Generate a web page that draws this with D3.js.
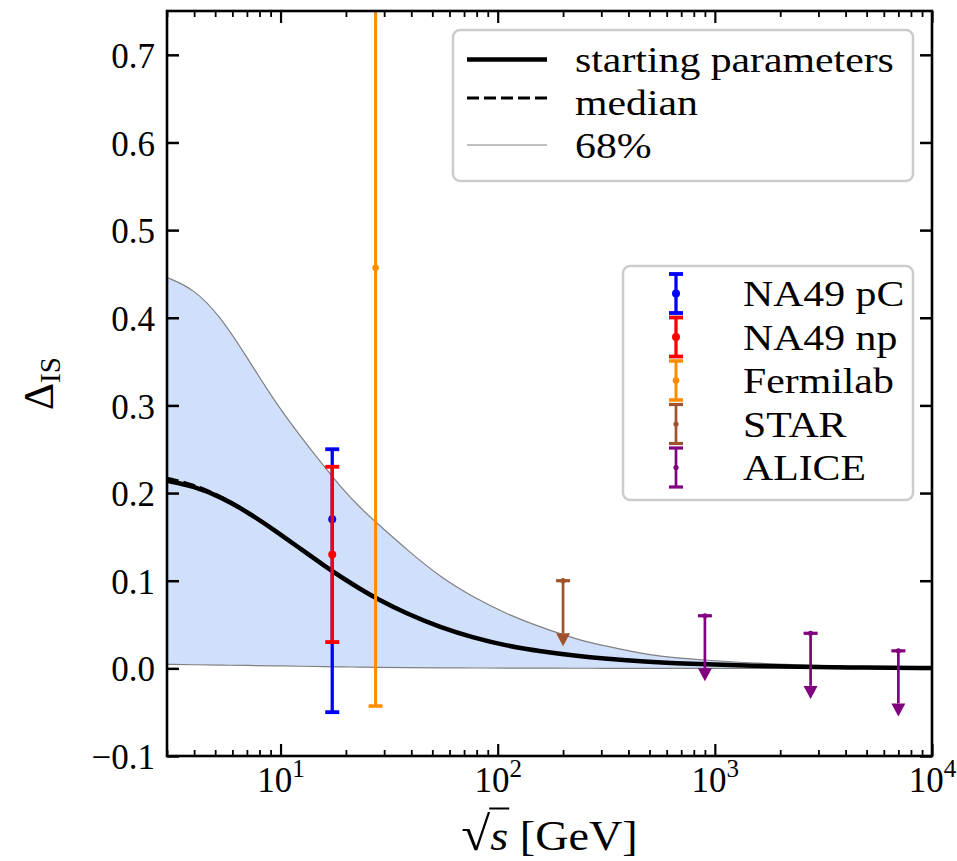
<!DOCTYPE html>
<html><head><meta charset="utf-8">
<script src="https://cdn.jsdelivr.net/npm/d3@7"></script>
<style>
body{margin:0;background:#fff}
svg text{font-family:"Liberation Serif","Times New Roman",serif;fill:#000}
</style>
</head><body>
<svg id="c" width="957" height="861"></svg>
<script>
// ---------- data ----------
const curveEnergy = [3,4,5.3,7,9.3,12.4,16.4,18.9,23.3,27.4,38.3,54.4,77.4,110,157,239,296,485,900,1990,4000,10000];
const startingValues = [0.214,0.2078,0.1956,0.1787,0.1584,0.1361,0.1147,0.1046,0.0905,0.0802,0.0621,0.0468,0.0349,0.0258,0.0195,0.0138,0.0115,0.0075,0.0045,0.0022,0.0010,0.0003];
const medianValues   = [0.217,0.2095,0.1965,0.1792,0.1586,0.1362,0.1147,0.1046,0.0905,0.0802,0.0621,0.0468,0.0349,0.0258,0.0195,0.0138,0.0115,0.0075,0.0045,0.0022,0.0010,0.0003];
const upperValues    = [0.446,0.433,0.401,0.355,0.306,0.264,0.226,0.207,0.183,0.167,0.135,0.104,0.081,0.062,0.047,0.032,0.027,0.015,0.009,0.0046,0.002,0.0005];
const lowerValues    = [0.0045,0.0041,0.0037,0.0033,0.0029,0.0024,0.0019,0.0017,0.0014,0.0012,0.0008,0.0006,0.0004,0.0003,0.0002,0.0001,0.0001,0,0,0,0,0];

const expNames    = ["NA49 pC","NA49 np","Fermilab","STAR","ALICE"];
const expEnergy   = [[17.3],[17.3],[27.4],[200],[900,2760,7000]];
const expValue    = [[0.17],[0.13],[0.457],[0.10],[0.06,0.04,0.02]];
const expErrLow   = [[0.22],[0.10],[0.50],[0.06],[0.06,0.06,0.06]];
const expErrHigh  = [[0.08],[0.10],[0.50],[0],[0,0,0]];
const expUpperLim = [false,false,false,true,true];

const curveLabels = ["starting parameters","median","68%"];
const yTicks = [-0.1,0,0.1,0.2,0.3,0.4,0.5,0.6,0.7];
const xTicks = [10,100,1000,10000];

// ---------- styles ----------
const expColors = ["#0000ff","#ff0000","#ff8c00","#a0522d","#800080"];
const expLineW  = [3.3,3.3,3,2.7,2.7];
const expDotR   = [4,4,3.3,2.6,2.6];

// ---------- layout ----------
const ML=167, MT=11, W=765, H=745;
const svg = d3.select("#c");
const x = d3.scaleLog().domain([3,1e4]).range([0,W]);
const y = d3.scaleLinear().domain([-0.1,0.75]).range([H,0]);
const g = svg.append("g").attr("transform",`translate(${ML},${MT})`);

svg.append("defs").append("clipPath").attr("id","clip")
  .append("rect").attr("width",W).attr("height",H);
const plot = g.append("g").attr("clip-path","url(#clip)");

const curve = curveEnergy.map((e,i)=>({e, s:startingValues[i], m:medianValues[i], hi:upperValues[i], lo:lowerValues[i]}));
const smooth = d3.curveBasis;

// band
plot.append("path").datum(curve)
  .attr("d", d3.area().x(d=>x(d.e)).y0(d=>y(d.lo)).y1(d=>y(d.hi)).curve(smooth))
  .attr("fill","rgba(100,149,237,0.3)").attr("stroke","none");
["hi","lo"].forEach(k=>{
  plot.append("path").datum(curve)
    .attr("d", d3.line().x(d=>x(d.e)).y(d=>y(d[k])).curve(smooth))
    .attr("fill","none").attr("stroke","#808080").attr("stroke-width",1.2);
});
plot.append("path").datum(curve)
  .attr("d", d3.line().x(d=>x(d.e)).y(d=>y(d.s)).curve(smooth))
  .attr("fill","none").attr("stroke","#000").attr("stroke-width",4.5);
plot.append("path").datum(curve)
  .attr("d", d3.line().x(d=>x(d.e)).y(d=>y(d.m)).curve(smooth))
  .attr("fill","none").attr("stroke","#000").attr("stroke-width",3).attr("stroke-dasharray","12,5");

// error bars
expNames.forEach((name,k)=>{
  const col = expColors[k], lw = expLineW[k];
  const grp = plot.append("g");
  expEnergy[k].forEach((e,i)=>{
    const cx = x(e), v = expValue[k][i];
    const yTop = y(v + expErrHigh[k][i]), yBot = y(v - expErrLow[k][i]);
    grp.append("line").attr("x1",cx).attr("x2",cx).attr("y1",yTop).attr("y2",yBot)
      .attr("stroke",col).attr("stroke-width",lw);
    grp.append("line").attr("x1",cx-7).attr("x2",cx+7).attr("y1",yTop).attr("y2",yTop)
      .attr("stroke",col).attr("stroke-width",lw+0.5);
    if(expUpperLim[k]){
      grp.append("path").attr("d",`M${cx-7},${yBot}L${cx+7},${yBot}L${cx},${yBot+13}Z`).attr("fill",col);
    } else {
      grp.append("line").attr("x1",cx-7).attr("x2",cx+7).attr("y1",yBot).attr("y2",yBot)
        .attr("stroke",col).attr("stroke-width",lw+0.5);
    }
    grp.append("circle").attr("cx",cx).attr("cy",y(v)).attr("r",expDotR[k]).attr("fill",col);
  });
});

// ---------- axes ----------
const minorX = [];
for(let dec=1; dec<=1000; dec*=10) for(let m=2;m<10;m++){const v=m*dec; if(v>=3 && v<=1e4) minorX.push(v);}
function styleAxis(sel){ sel.select(".domain").remove(); sel.selectAll(".tick line").attr("stroke","#000"); }
const axB = g.append("g").attr("transform",`translate(0,${H})`).call(d3.axisBottom(x).tickValues(xTicks).tickSize(-12).tickFormat(""));
styleAxis(axB); axB.selectAll(".tick line").attr("stroke-width",2.2);
axB.selectAll(".tick").append("text").attr("text-anchor","middle").attr("y",36).attr("font-size",35)
  .each(function(d){
    const t=d3.select(this);
    t.append("tspan").text("10");
    t.append("tspan").attr("dy",-15).attr("font-size",25).text(Math.round(Math.log10(d)));
  });
const axBm = g.append("g").attr("transform",`translate(0,${H})`).call(d3.axisBottom(x).tickValues(minorX).tickSize(-6).tickFormat(""));
styleAxis(axBm); axBm.selectAll(".tick line").attr("stroke-width",1.8);
const axT = g.append("g").call(d3.axisTop(x).tickValues(xTicks).tickSize(-12).tickFormat(""));
styleAxis(axT); axT.selectAll(".tick line").attr("stroke-width",2.2);
const axTm = g.append("g").call(d3.axisTop(x).tickValues(minorX).tickSize(-6).tickFormat(""));
styleAxis(axTm); axTm.selectAll(".tick line").attr("stroke-width",1.8);

const axL = g.append("g").call(d3.axisLeft(y).tickValues(yTicks).tickSize(-12).tickPadding(12).tickFormat(d3.format(".1f")));
styleAxis(axL); axL.selectAll(".tick line").attr("stroke-width",2.5);
axL.selectAll(".tick text").attr("font-size",35).attr("dy","0.36em").attr("font-family","Liberation Serif");
const axR = g.append("g").attr("transform",`translate(${W},0)`).call(d3.axisRight(y).tickValues(yTicks).tickSize(-12).tickFormat(""));
styleAxis(axR); axR.selectAll(".tick line").attr("stroke-width",2.5);

g.append("rect").attr("width",W).attr("height",H).attr("fill","none").attr("stroke","#000").attr("stroke-width",2.6);

// axis labels
const xl = svg.append("text").attr("x",ML+W/2).attr("y",850).attr("text-anchor","middle").attr("font-size",42);
xl.append("tspan").attr("font-size",48).text("√");
xl.append("tspan").attr("font-style","italic").text("s");
xl.append("tspan").text(" [GeV]");
{
  const node = xl.node();
  const w = node.getComputedTextLength();
  xl.attr("textLength", w*1.1).attr("lengthAdjust","spacingAndGlyphs");
  const r0 = node.getExtentOfChar(0), r1 = node.getExtentOfChar(1);
  svg.append("line").attr("x1",r0.x+r0.width-1).attr("x2",r1.x+r1.width+1)
    .attr("y1",r0.y+1.5).attr("y2",r0.y+1.5).attr("stroke","#000").attr("stroke-width",2);
}
const yl = svg.append("text").attr("transform",`translate(53,${MT+H/2}) rotate(-90)`).attr("text-anchor","middle").attr("font-size",42);
yl.append("tspan").text("Δ");
yl.append("tspan").attr("font-size",29).attr("dy",7).text("IS");

// ---------- legends ----------
const TXT_STRETCH = 1.16;
function legendText(sel, xPos, yPos, str){
  const t = sel.append("text").attr("x",xPos).attr("y",yPos).attr("font-size",36).text(str);
  const w = t.node().getComputedTextLength();
  t.attr("textLength", w*TXT_STRETCH).attr("lengthAdjust","spacingAndGlyphs");
}
const lg1 = svg.append("g");
lg1.append("rect").attr("x",453).attr("y",30).attr("width",460).attr("height",151).attr("rx",7)
  .attr("fill","rgba(255,255,255,0.85)").attr("stroke","#cccccc").attr("stroke-width",2.5);
const lineRows=[59.5,98,145], textRows=[72,115,158];
lg1.append("line").attr("x1",467).attr("x2",547).attr("y1",lineRows[0]).attr("y2",lineRows[0]).attr("stroke","#000").attr("stroke-width",4.5);
lg1.append("line").attr("x1",467).attr("x2",547).attr("y1",lineRows[1]).attr("y2",lineRows[1]).attr("stroke","#000").attr("stroke-width",3).attr("stroke-dasharray","12,5");
lg1.append("line").attr("x1",467).attr("x2",547).attr("y1",lineRows[2]).attr("y2",lineRows[2]).attr("stroke","#808080").attr("stroke-width",1.2);
curveLabels.forEach((s,i)=>legendText(lg1,575,textRows[i],s));

const lg2 = svg.append("g");
lg2.append("rect").attr("x",623).attr("y",266).attr("width",290).attr("height",234).attr("rx",7)
  .attr("fill","rgba(255,255,255,0.85)").attr("stroke","#cccccc").attr("stroke-width",2.5);
expNames.forEach((name,k)=>{
  const cy = 293.5 + 43.5*k, cx = 676, col = expColors[k], lw = expLineW[k];
  lg2.append("line").attr("x1",cx).attr("x2",cx).attr("y1",cy-19.5).attr("y2",cy+19.5).attr("stroke",col).attr("stroke-width",lw);
  [cy-19.5, cy+19.5].forEach(yy=>lg2.append("line").attr("x1",cx-7).attr("x2",cx+7).attr("y1",yy).attr("y2",yy).attr("stroke",col).attr("stroke-width",lw+0.5));
  lg2.append("circle").attr("cx",cx).attr("cy",cy).attr("r",expDotR[k]).attr("fill",col);
  legendText(lg2,743,cy+12.5,name);
});
</script>
</body></html>
